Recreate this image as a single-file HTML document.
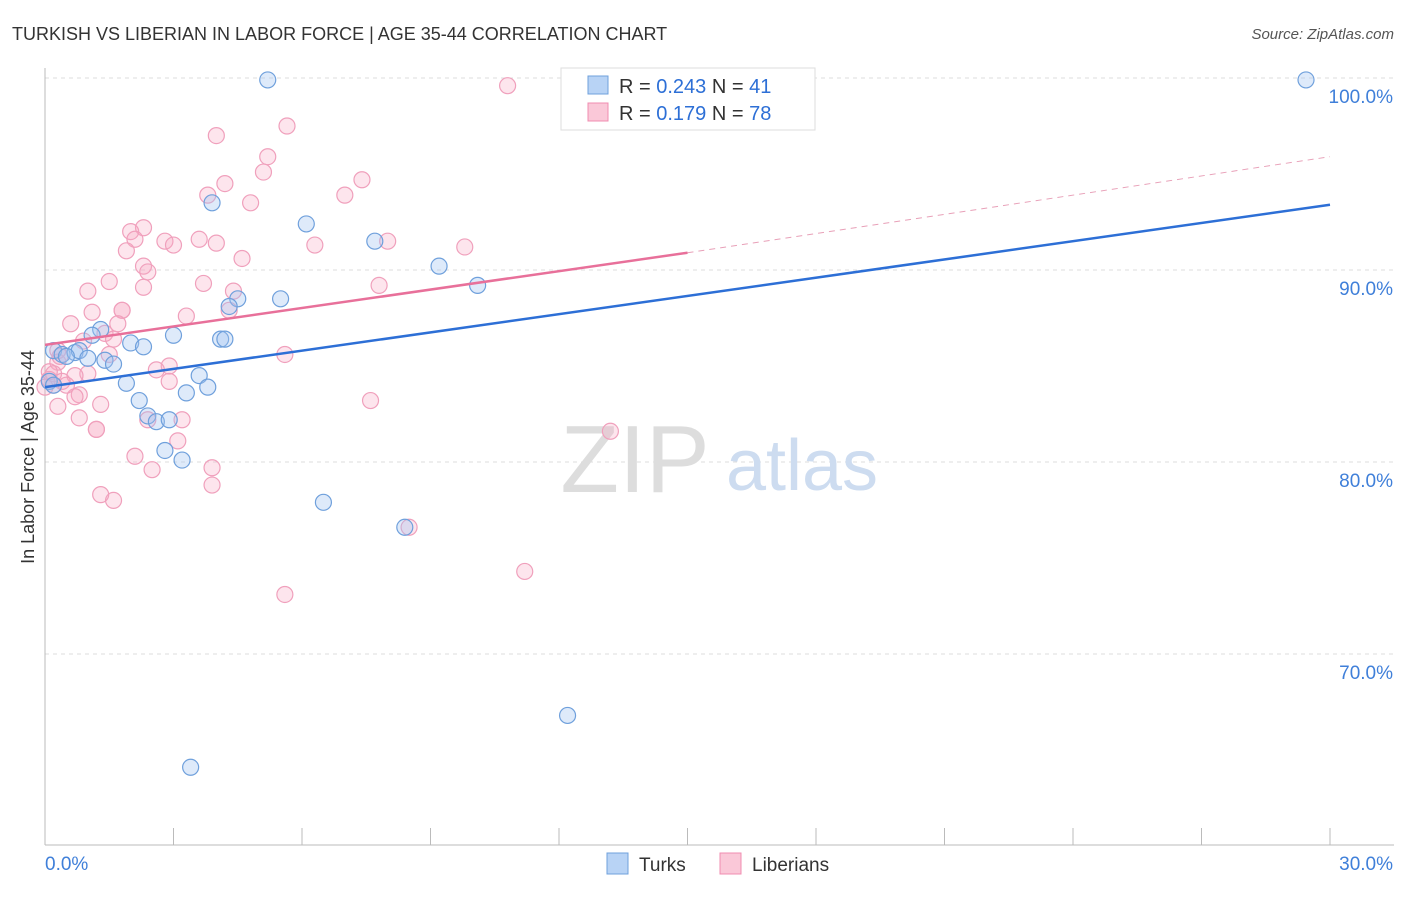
<!DOCTYPE html>
<html><head><meta charset="utf-8"><style>
body{margin:0;background:#fff;font-family:"Liberation Sans",sans-serif}
svg text{font-family:"Liberation Sans",sans-serif}
</style></head><body>
<svg width="1406" height="892" viewBox="0 0 1406 892">
<text x="12" y="40" font-size="18" fill="#333">TURKISH VS LIBERIAN IN LABOR FORCE | AGE 35-44 CORRELATION CHART</text>
<text x="1394" y="39" font-size="15" fill="#555" text-anchor="end" font-style="italic">Source: ZipAtlas.com</text>
<g id="grid"></g>
<text x="635" y="492" font-size="96" fill="#ddd" font-family="Liberation Serif" text-anchor="middle">ZIP</text>
<text x="802" y="490" font-size="72" fill="#cddcf0" text-anchor="middle">atlas</text>
<g id="axes"></g>
<g id="pts"></g>
<g id="trend"></g>
<text transform="translate(34,457) rotate(-90)" font-size="18" fill="#333" text-anchor="middle">In Labor Force | Age 35-44</text>
<g>
<rect x="561" y="68" width="254" height="62" fill="#fff" stroke="#ddd"/>
<rect x="588" y="76" width="20" height="18" fill="#b8d3f5" stroke="#6fa0dc"/>
<rect x="588" y="103" width="20" height="18" fill="#fac8d8" stroke="#f08cb0"/>
<text x="619" y="93" font-size="20" fill="#333">R = <tspan fill="#2d6fd6">0.243</tspan>   N = <tspan fill="#2d6fd6">41</tspan></text>
<text x="619" y="120" font-size="20" fill="#333">R =  <tspan fill="#2d6fd6">0.179</tspan>   N = <tspan fill="#2d6fd6">78</tspan></text>
</g>
<g>
<rect x="607" y="853" width="21" height="21" fill="#b8d3f5" stroke="#6fa0dc"/>
<text x="639" y="871" font-size="19" fill="#333">Turks</text>
<rect x="720" y="853" width="21" height="21" fill="#fac8d8" stroke="#f08cb0"/>
<text x="752" y="871" font-size="19" fill="#333">Liberians</text>
</g>
</svg>
<script>
const yTicks=[100,90,80,70];
const xTickLabels=["0.0%","30.0%"];
const turksX=[5.2,29.44,3.9,6.1,7.7,9.2,10.1,5.5,4.5,4.3,3.0,1.3,1.1,4.1,4.2,2.0,2.3,0.2,0.4,0.7,0.8,1.0,1.4,1.6,3.6,1.9,3.8,3.3,2.2,2.4,2.6,2.9,2.8,3.2,6.5,8.4,12.2,3.4,0.1,0.2,0.5];
const turksY=[99.9,99.9,93.5,92.4,91.5,90.2,89.2,88.5,88.5,88.1,86.6,86.9,86.6,86.4,86.4,86.2,86.0,85.8,85.6,85.7,85.8,85.4,85.3,85.1,84.5,84.1,83.9,83.6,83.2,82.4,82.1,82.2,80.6,80.1,77.9,76.6,66.8,64.1,84.2,84.0,85.5];
const libX=[10.8,5.65,4.0,5.2,5.1,7.4,4.2,7.0,3.8,4.8,2.3,2.0,2.1,1.9,2.8,3.0,3.6,4.0,6.3,8.0,9.8,4.6,2.3,2.4,2.3,1.5,1.0,7.8,3.7,4.4,1.1,1.8,1.8,3.3,4.3,0.6,1.7,1.4,0.9,1.6,1.5,5.6,2.9,2.6,1.0,0.3,0.7,2.9,0.2,0.1,0.2,0.4,0.8,0.7,7.6,0.3,1.3,0.8,1.2,1.2,3.2,2.4,3.1,2.1,13.2,2.5,3.9,3.9,1.3,1.6,8.5,11.2,5.6,0.35,0.5,0.1,0.3,0.0];
const libY=[99.6,97.5,97.0,95.9,95.1,94.7,94.5,93.9,93.9,93.5,92.2,92.0,91.6,91.0,91.5,91.3,91.6,91.4,91.3,91.5,91.2,90.6,90.2,89.9,89.1,89.4,88.9,89.2,89.3,88.9,87.8,87.9,87.9,87.6,87.9,87.2,87.2,86.7,86.3,86.4,85.6,85.6,85.0,84.8,84.6,85.2,84.5,84.2,84.6,84.3,84.0,84.2,83.5,83.4,83.2,82.9,83.0,82.3,81.7,81.7,82.2,82.2,81.1,80.3,81.6,79.6,79.7,78.8,78.3,78.0,76.6,74.3,73.1,85.5,84.0,84.7,85.8,83.9];
const turkTrend=[83.9,93.4];
const libTrendA=[86.1,90.9], libTrendB=95.9;
const X=v=>45+v/30*1285, Y=v=>78+(100-v)*19.2;
const NS="http://www.w3.org/2000/svg";
function mk(t,a,p){const e=document.createElementNS(NS,t);for(const k in a)e.setAttribute(k,a[k]);document.getElementById(p).appendChild(e);return e;}
yTicks.forEach(v=>{
 const l=mk('line',{x1:45,x2:1394,y1:Y(v),y2:Y(v),stroke:'#ddd','stroke-dasharray':'4,4'},'grid');
 
 
 const t=mk('text',{x:1393,y:Y(v)+25,'font-size':19,fill:'#3f7fd9','text-anchor':'end'},'grid');
 t.textContent=v.toFixed(1)+'%';
 
 
});
mk('line',{x1:45,x2:45,y1:68,y2:845,stroke:'#bbb'},'axes');
mk('line',{x1:45,x2:1394,y1:845,y2:845,stroke:'#bbb'},'axes');
for(let i=0;i<=10;i++)mk('line',{x1:X(i*3),x2:X(i*3),y1:828,y2:845,stroke:'#bbb'},'axes');
const t0=mk('text',{x:45,y:870,'font-size':19,fill:'#3f7fd9'},'axes');t0.textContent=xTickLabels[0];


const t1=mk('text',{x:1393,y:870,'font-size':19,fill:'#3f7fd9','text-anchor':'end'},'axes');t1.textContent=xTickLabels[1];


libX.forEach((x,i)=>{const c=mk('circle',{cx:X(x),cy:Y(libY[i]),r:8,fill:'rgba(248,170,196,0.3)',stroke:'#f0a0bc','stroke-width':1.2},'pts');
 
 });
turksX.forEach((x,i)=>{const c=mk('circle',{cx:X(x),cy:Y(turksY[i]),r:8,fill:'rgba(160,196,240,0.35)',stroke:'#6fa0dc','stroke-width':1.2},'pts');
 
 });
let l=mk('line',{x1:X(0),y1:Y(libTrendA[0]),x2:X(15),y2:Y(libTrendA[1]),stroke:'#e8709a','stroke-width':2.5},'trend');


l=mk('line',{x1:X(15),y1:Y(libTrendA[1]),x2:X(30),y2:Y(libTrendB),stroke:'#e8a0b8','stroke-width':1,'stroke-dasharray':'6,5'},'trend');


l=mk('line',{x1:X(0),y1:Y(turkTrend[0]),x2:X(30),y2:Y(turkTrend[1]),stroke:'#2d6fd6','stroke-width':2.5},'trend');


</script>
</body></html>
